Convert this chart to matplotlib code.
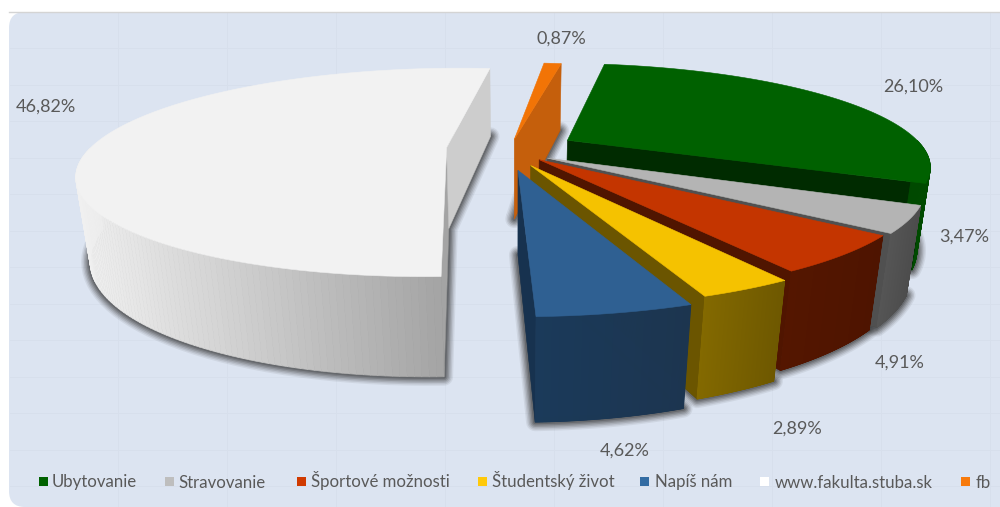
import numpy as np
import matplotlib
matplotlib.use("Agg")
import matplotlib.pyplot as plt
from matplotlib.collections import PolyCollection
from matplotlib.patches import FancyBboxPatch, Polygon, Rectangle
from matplotlib.colors import to_rgb

# ---- data ----
categories = ["Ubytovanie", "Stravovanie", "Športové možnosti", "Študentský život",
              "Napíš nám", "www.fakulta.stuba.sk", "fb"]
values = [26.10, 3.47, 4.91, 2.89, 4.62, 46.82, 0.87]

# ---- styles ----
top_colors = ["#006100", "#B4B4B4", "#C43500", "#F5C200", "#2F6092", "#F2F2F2", "#F27406"]
legend_colors = ["#006100", "#BEBEBE", "#D03A00", "#FFC90A", "#336CA3", "#FFFFFF", "#F77A0C"]
wall_left = ["#004A00", "#555555", "#541600", "#836900", "#1B3A5A", "#F0F0F0", "#C55F0C"]
wall_right = ["#004A00", "#4C4C4C", "#4E1400", "#6E5800", "#1C3550", "#A4A4A4", "#C55F0C"]
end_wall = ["#002B00", "#505050", "#501500", "#6B5500", "#17324F", "#CDCDCD", "#C55F0C"]
explode_x = [0.150, 0.088, 0.066, 0.042, 0.008, -0.192, -0.002]
explode_y = [-0.100, 0.080, 0.095, 0.150, 0.195, -0.025, -0.110]
draw_order = [5, 6, 0, 1, 2, 3, 4]
label_xy = [(913, 87), (964, 237), (900, 363), (797, 429), (625, 451), (46, 107), (561, 39)]
legend_marker_x = [39, 165, 297, 478, 640, 760, 961]
legend_text_x = [52, 178, 311, 492, 655, 775, 976]
start_angle = 9.5
CX, CY, RX, SY, K, H, M = 515.0, 150.0, 358.0, 99.5, 0.24, 84.0, 0.032
TEXT = "#595959"
FONT = "Lato"


def proj(X, Y, z):
    w = 1 - K * np.asarray(Y) + M * z
    return np.column_stack([CX + RX * np.asarray(X) / w, CY + (SY * np.asarray(Y) + H * z) / w])


def rim(t, dx, dy):
    a = np.radians(t)
    return dx + np.sin(a), dy - np.cos(a)


def area(p):
    x, y = p[:, 0], p[:, 1]
    return 0.5 * np.sum(x * np.roll(y, -1) - np.roll(x, -1) * y)


fig = plt.figure(figsize=(10, 5.07), dpi=100)
ax = fig.add_axes([0, 0, 1, 1])
ax.set_xlim(0, 1000)
ax.set_ylim(507, 0)
ax.axis("off")

bg = FancyBboxPatch((9, 12), 1020, 495, boxstyle="round,pad=0,rounding_size=16",
                    fc="#DCE4F1", ec="none", zorder=0)
ax.add_patch(bg)
ax.plot([9, 1000], [11.5, 11.5], color="#D4D4D4", lw=1, zorder=0.5)
for gx in np.arange(118, 1000, 109):
    ax.plot([gx, gx], [13, 507], color="#D7DFEC", lw=0.7, zorder=0.2)
for gy in np.arange(48, 507, 36.5):
    ax.plot([10, 1000], [gy, gy], color="#D7DFEC", lw=0.7, zorder=0.2)

fracs = np.array(values) / np.sum(values) * 360
starts = start_angle + np.concatenate([[0], np.cumsum(fracs)[:-1]])

zo = 2.0
for i in draw_order:  # soft shadows first
    t = np.linspace(starts[i], starts[i] + fracs[i], 80)
    rx, ry = rim(t, explode_x[i], explode_y[i])
    bx = np.r_[explode_x[i], rx]
    by = np.r_[explode_y[i], ry]
    poly = proj(bx, by, 1.0)
    for lw, al in zip([13, 11, 9, 7, 5, 3], [0.08, 0.11, 0.14, 0.18, 0.22, 0.28]):
        ax.add_patch(Polygon(poly, closed=True, fc="#303030", ec="#303030", lw=lw, alpha=al,
                             joinstyle="round", zorder=1))

for i in draw_order:
    dx, dy = explode_x[i], explode_y[i]
    t0, t1 = starts[i], starts[i] + fracs[i]
    t = np.linspace(t0, t1, 200)
    rx, ry = rim(t, dx, dy)
    # outer wall
    top = proj(rx, ry, 0.0)
    bot = proj(rx, ry, 1.0)
    vis = (t > 90) & (t < 270)
    quads, cols = [], []
    cl, cr = np.array(to_rgb(wall_left[i])), np.array(to_rgb(wall_right[i]))
    xs = top[:, 0]
    xmin, xmax = xs[vis].min() if vis.any() else 0, xs[vis].max() if vis.any() else 1
    for j in range(len(t) - 1):
        if vis[j] and vis[j + 1]:
            quads.append([top[j], top[j + 1], bot[j + 1], bot[j]])
            f = (0.5 * (xs[j] + xs[j + 1]) - xmin) / max(xmax - xmin, 1)
            cols.append(cl + (cr - cl) * f)
    # radial walls
    for tt, sign, colour in [(t0, -1, wall_right[i]), (t1, 1, end_wall[i])]:
        ex, ey = rim(tt, dx, dy)
        q = np.vstack([proj([dx], [dy], 0.0), proj([ex], [ey], 0.0),
                       proj([ex], [ey], 1.0), proj([dx], [dy], 1.0)])
        if area(q) * sign > 0:
            ax.add_patch(Polygon(q, closed=True, fc=colour, ec=colour, lw=0.4, zorder=zo))
            zo += 0.01
    if quads:
        ax.add_collection(PolyCollection(quads, facecolors=cols, edgecolors=cols, linewidths=0.5, zorder=zo))
        zo += 0.01
    # top face
    face = np.vstack([proj([dx], [dy], 0.0), top])
    ax.add_patch(Polygon(face, closed=True, fc=top_colors[i], ec=top_colors[i], lw=0.4, zorder=zo))
    zo += 0.01

for v, (lx, ly) in zip(values, label_xy):
    ax.text(lx, ly, f"{v:.2f}".replace(".", ",") + "%", ha="center", va="center",
            fontsize=13, color=TEXT, family=FONT, zorder=10)

for name, c, mx, tx in zip(categories, legend_colors, legend_marker_x, legend_text_x):
    ax.add_patch(Rectangle((mx, 477), 9, 9, fc=c, ec="none", zorder=10))
    ax.text(tx, 487.5, name, ha="left", va="baseline", fontsize=12.1, color=TEXT, family=FONT, zorder=10)

fig.savefig("out.png", dpi=100)
